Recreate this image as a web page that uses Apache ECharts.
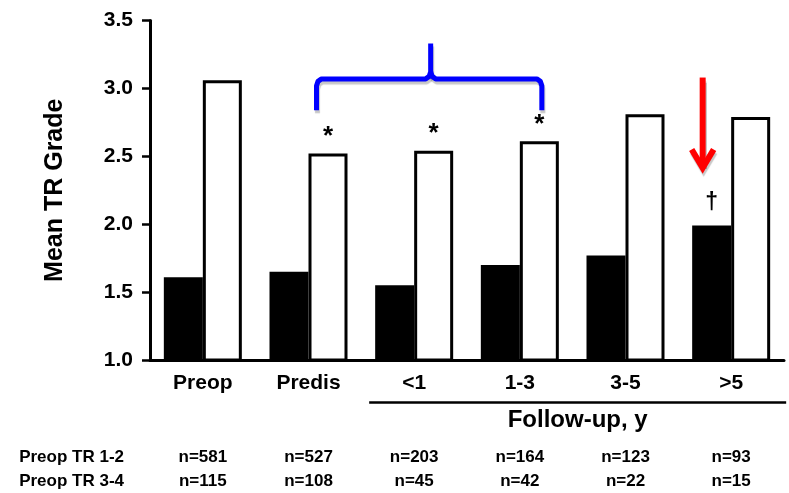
<!DOCTYPE html>
<html><head><meta charset="utf-8">
<script src="https://cdn.jsdelivr.net/npm/echarts@6/dist/echarts.min.js"></script>
<style>html,body{margin:0;padding:0;background:#fff}#c{width:789px;height:493px}</style>
</head><body><div id="c"></div>
<script>
const categories = ['Preop', 'Predis', '<1', '1-3', '3-5', '>5'];
const preopTR12 = [1.61, 1.65, 1.55, 1.70, 1.77, 1.99];
const preopTR34 = [3.06, 2.52, 2.54, 2.61, 2.81, 2.79];
const nTR12 = [581, 527, 203, 164, 123, 93];
const nTR34 = [115, 108, 45, 42, 22, 15];
const marksTR12 = ['', '', '', '', '', '†'];
const marksTR34 = ['', '*', '*', '*', '', ''];
const yTicks = [1.0, 1.5, 2.0, 2.5, 3.0, 3.5];
const rowNames = ['Preop TR 1-2', 'Preop TR 3-4'];
const followLabel = 'Follow-up, y';
const yName = 'Mean TR Grade';

const FF = '"Liberation Sans", Arial, sans-serif';
const chart = echarts.init(document.getElementById('c'), null, {renderer: 'canvas'});

function nAxis(arr, name, offset) {
  return {
    type: 'category', data: arr.map(v => 'n=' + v), gridIndex: 0, position: 'bottom', offset: offset,
    axisLine: {show: false}, axisTick: {show: false},
    axisLabel: {margin: 0, verticalAlign: 'middle', color: '#000', fontFamily: FF, fontWeight: 'bold', fontSize: 17},
    name: name, nameLocation: 'start', nameGap: 26,
    nameTextStyle: {color: '#000', fontFamily: FF, fontWeight: 'bold', fontSize: 17, verticalAlign: 'middle', align: 'right'}
  };
}

chart.setOption({
  animation: false,
  backgroundColor: '#fff',
  grid: {left: 150, right: 5, top: 20.5, bottom: 133, containLabel: false},
  xAxis: [
    {
      type: 'category', data: categories, z: 5,
      axisLine: {lineStyle: {color: '#000', width: 3}},
      axisTick: {show: false},
      axisLabel: {margin: 13, color: '#000', fontFamily: FF, fontWeight: 'bold', fontSize: 21}
    },
    nAxis(nTR12, rowNames[0], 97),
    nAxis(nTR34, rowNames[1], 121)
  ],
  yAxis: {
    type: 'value', min: yTicks[0], max: yTicks[yTicks.length - 1], interval: 0.5, z: 5,
    axisLine: {show: true, lineStyle: {color: '#000', width: 3}},
    axisTick: {show: true, length: 8, lineStyle: {color: '#000', width: 2.5}},
    splitLine: {show: false},
    axisLabel: {margin: 17, color: '#000', fontFamily: FF, fontWeight: 'bold', fontSize: 21,
      formatter: v => v.toFixed(1)},
    name: yName, nameLocation: 'middle', nameRotate: 90, nameGap: 82,
    nameTextStyle: {color: '#000', fontFamily: FF, fontWeight: 'bold', fontSize: 25}
  },
  series: [
    {
      type: 'bar', name: rowNames[0], data: preopTR12, barWidth: 39, barGap: '0%',
      itemStyle: {color: '#000'},
      label: {show: true, position: 'top', distance: 11, formatter: p => marksTR12[p.dataIndex],
        color: '#000', fontFamily: FF, fontWeight: 'bold', fontSize: 23}
    },
    {
      type: 'bar', name: rowNames[1], data: preopTR34, barWidth: 39,
      itemStyle: {color: '#fff', borderColor: '#000', borderWidth: 3},
      label: {show: true, position: 'top', distance: 4, formatter: p => marksTR34[p.dataIndex],
        color: '#000', fontFamily: FF, fontWeight: 'bold', fontSize: 26}
    }
  ]
});

function px(ci, v) { return chart.convertToPixel({gridIndex: 0}, [ci, v]); }

const pL = px(1, 3.07), pP = px(2, 3.33), pR = px(3, 3.07), pB = px(1, 2.84);
const Lx = pL[0] + 8, Px = pP[0] + 16.5, Rx = pR[0] + 22, Ty = pL[1], Py = pP[1], By = pB[1];
const blueStyle = {stroke: '#0000ff', lineWidth: 5, fill: null, lineJoin: 'round', lineCap: 'butt',
  shadowColor: 'rgba(0,0,0,0.22)', shadowOffsetX: 1, shadowOffsetY: 3, shadowBlur: 1};
const a0 = px(5, 3.08), a1 = px(5, 2.40), aw = px(5, 2.55);
const Ax = a0[0] - 28.5;
const redStyle = {stroke: '#ff0000', lineWidth: 6, fill: null, lineJoin: 'miter', lineCap: 'butt',
  shadowColor: 'rgba(0,0,0,0.22)', shadowOffsetX: 1, shadowOffsetY: 3, shadowBlur: 1};
const f0 = px(2, 1), f1 = px(5, 1);
const fy = f0[1] + 42.5;

chart.setOption({
  graphic: [
    {type: 'polyline', shape: {points: [[Lx, By], [Lx, Ty + 7], [Lx + 1.5, Ty + 2.5], [Lx + 5, Ty], [Px - 5, Ty], [Px - 1.5, Ty - 2.5], [Px, Ty - 7], [Px, Py]]}, style: blueStyle, z: 20},
    {type: 'polyline', shape: {points: [[Px, Ty - 7], [Px + 1.5, Ty - 2.5], [Px + 5, Ty], [Rx - 5, Ty], [Rx - 1.5, Ty + 2.5], [Rx, Ty + 7], [Rx, By]]}, style: blueStyle, z: 20},
    {type: 'line', shape: {x1: Ax, y1: a0[1], x2: Ax, y2: a1[1] - 4}, style: redStyle, z: 20},
    {type: 'polyline', shape: {points: [[Ax - 11, aw[1]], [Ax, a1[1] - 2], [Ax + 11, aw[1]]]}, style: redStyle, z: 20},
    {type: 'line', shape: {x1: f0[0] - 45, y1: fy, x2: f1[0] + 55, y2: fy}, style: {stroke: '#000', lineWidth: 2.5}, z: 20},
    {type: 'text', x: (f0[0] + f1[0]) / 2 + 5, y: fy + 18, z: 20,
      style: {text: followLabel, fill: '#000', font: 'bold 24px ' + FF, textAlign: 'center', textVerticalAlign: 'middle'}}
  ]
});
</script></body></html>
